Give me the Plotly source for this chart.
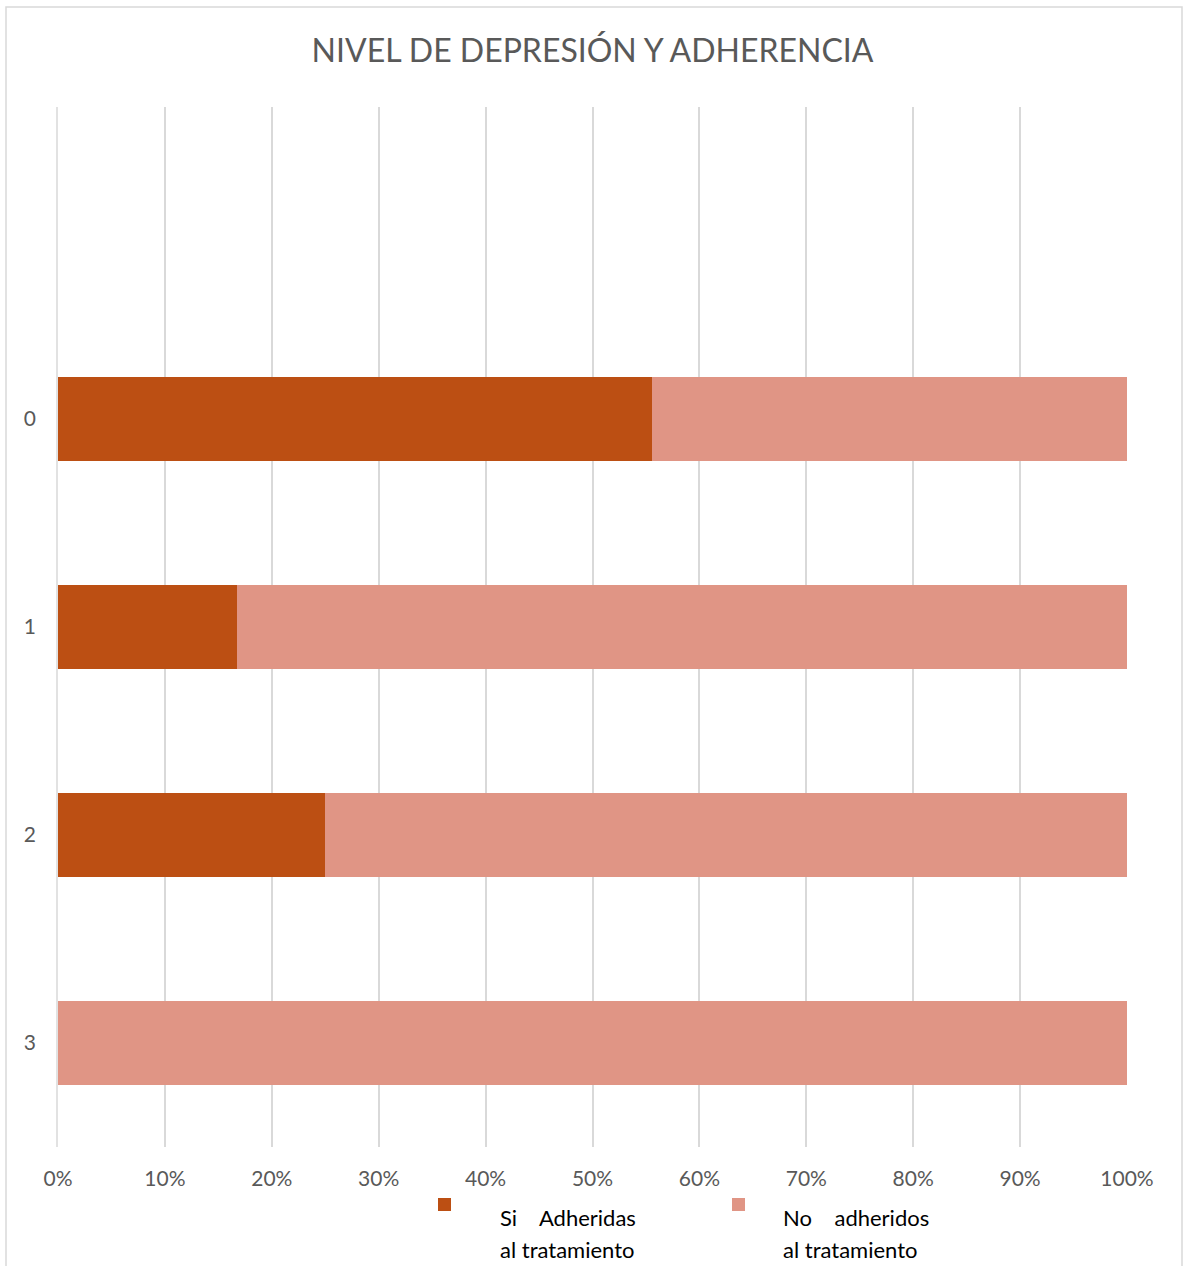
import plotly.graph_objects as go

categories = ["0", "1", "2", "3"]
si_adheridas = [0.556, 0.167, 0.25, 0.0]
no_adheridos = [0.444, 0.833, 0.75, 1.0]
x_ticks = [0, 0.1, 0.2, 0.3, 0.4, 0.5, 0.6, 0.7, 0.8, 0.9, 1.0]
title_text = "NIVEL DE DEPRESIÓN Y ADHERENCIA"
legend_line1 = ["Si    Adheridas", "No    adheridos"]
legend_line2 = ["al tratamiento", "al tratamiento"]
colors = ["#BC4F13", "#E09585"]

W, H = 1184, 1266
L, R, T, B = 58, 57, 107, 119
pw, ph = W - L - R, H - T - B

def px(x):
    return (x - L) / pw

def py(y):
    return (H - B - y) / ph

FONT = "Lato, 'Open Sans', sans-serif"

fig = go.Figure()
fig.add_trace(go.Bar(y=categories, x=si_adheridas, orientation="h", name="Si Adheridas al tratamiento",
                     marker=dict(color=colors[0], line=dict(width=0)), width=0.404))
fig.add_trace(go.Bar(y=categories, x=no_adheridos, orientation="h", name="No adheridos al tratamiento",
                     marker=dict(color=colors[1], line=dict(width=0)), width=0.404))

shapes = [
    dict(type="rect", xref="paper", yref="paper", x0=px(6), x1=px(1182), y0=py(1280), y1=py(7),
         line=dict(color="#d9d9d9", width=1.5), fillcolor="rgba(0,0,0,0)", layer="below"),
    dict(type="line", xref="paper", yref="paper", x0=px(57), x1=px(57), y0=0, y1=1,
         line=dict(color="#d9d9d9", width=1.5), layer="below"),
    dict(type="rect", xref="paper", yref="paper", x0=px(438), x1=px(451), y0=py(1211), y1=py(1198),
         line=dict(width=0), fillcolor=colors[0]),
    dict(type="rect", xref="paper", yref="paper", x0=px(732), x1=px(745), y0=py(1211), y1=py(1198),
         line=dict(width=0), fillcolor=colors[1]),
]

annotations = []
for xs, l1, l2 in [(498, legend_line1[0], legend_line2[0]), (781, legend_line1[1], legend_line2[1])]:
    annotations.append(dict(text=l1, xref="paper", yref="paper", x=px(xs), y=py(1217), xanchor="left",
                            yanchor="middle", showarrow=False, align="left",
                            font=dict(family=FONT, size=22, color="#000000")))
    annotations.append(dict(text=l2, xref="paper", yref="paper", x=px(xs), y=py(1249), xanchor="left",
                            yanchor="middle", showarrow=False, align="left",
                            font=dict(family=FONT, size=22, color="#000000")))

fig.update_layout(
    width=W, height=H,
    margin=dict(l=L, r=R, t=T, b=B),
    paper_bgcolor="white", plot_bgcolor="white",
    barmode="stack",
    showlegend=False,
    title=dict(text=title_text, x=0.5, xref="paper", y=1 - 51 / H, yanchor="middle",
               font=dict(family=FONT, size=32, color="#595959")),
    xaxis=dict(range=[0, 1], tickvals=x_ticks, tickformat=".0%", showgrid=True, gridcolor="#d9d9d9",
               gridwidth=1.5, zeroline=False, showline=False, ticks="",
               tickfont=dict(family=FONT, size=21, color="#595959"), ticklabelstandoff=17),
    yaxis=dict(type="category", categoryorder="array", categoryarray=categories, range=[3.5, -1.5],
               showgrid=False, zeroline=False, showline=False, ticks="",
               tickfont=dict(family=FONT, size=21, color="#595959"), ticklabelstandoff=21),
    shapes=shapes,
    annotations=annotations,
)

fig.write_html("out.html")
